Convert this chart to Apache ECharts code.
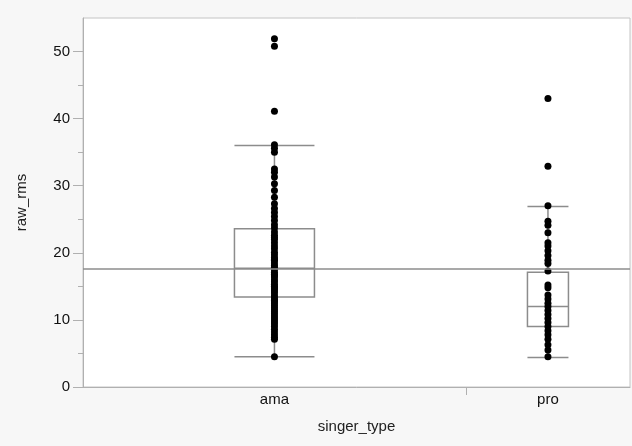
<!DOCTYPE html>
<html>
<head>
<meta charset="utf-8">
<script src="https://cdn.jsdelivr.net/npm/echarts@6/dist/echarts.min.js"></script>
<style>
  html, body { margin: 0; padding: 0; background: #f7f7f7; }
  #chart { width: 632px; height: 446px; }
</style>
</head>
<body>
<div id="chart"></div>
<script>
// categories and raw points
var categories = ['ama', 'pro'];
var amaValues = [51.9, 50.8, 41.1, 36.1, 35.6, 35.0, 32.5, 32.0, 31.3, 30.3,
  29.3, 28.3, 27.3, 26.6, 26.0, 25.4, 24.8, 24.2, 23.7, 23.1,
  22.6, 22.3, 22.0, 21.5, 21.0, 20.6, 20.1, 19.7, 19.3, 19.0,
  18.9, 18.5, 18.1, 17.8, 17.5, 17.1, 16.8, 16.6, 16.4, 16.0,
  15.7, 15.3, 15.0, 14.8, 14.6, 14.3, 14.0, 13.6, 13.3, 13.0,
  12.9, 12.7, 12.4, 12.1, 11.8, 11.5, 11.2, 10.9, 10.6, 10.3,
  10.0, 9.7, 9.4, 9.0, 8.6, 8.2, 7.8, 7.4, 7.1, 4.5];
var proValues = [43.0, 32.9, 27.0, 24.7, 24.1, 23.0, 21.5, 21.0, 20.3, 19.6,
  18.9, 18.4, 17.3, 15.2, 14.8, 13.7, 13.1, 12.5, 12.0, 11.4,
  10.8, 10.2, 9.6, 9.0, 8.4, 7.8, 7.1, 6.3, 5.5, 4.5];

// box stats: min, Q1, median, Q3, max (whisker ends)
var boxStats = [
  [4.5, 13.4, 17.7, 23.6, 36.0],
  [4.4, 9.0, 12.0, 17.1, 26.9]
];
var grandMean = 17.6;
var yTicks = [0, 10, 20, 30, 40, 50];
var yMax = 55;

// category widths follow the number of points, like JMP does
var counts = [amaValues.length, proValues.length];
var total = counts[0] + counts[1];
var centers = [counts[0] / 2, counts[0] + counts[1] / 2];
var yMinorTicks = yTicks.slice(0, -1).map(function (v, i) { return (v + yTicks[i + 1]) / 2; });

var boxWidthPx = [80, 41];
var grey = '#8c8c8c';
var font = 'Liberation Sans, Arial, sans-serif';

var chart = echarts.init(document.getElementById('chart'));

var pointData = [];
amaValues.forEach(function (v) { pointData.push([centers[0], v]); });
proValues.forEach(function (v) { pointData.push([centers[1], v]); });

var boxData = boxStats.map(function (s, i) { return [i].concat(s); });

var option = {
  animation: false,
  backgroundColor: '#f7f7f7',
  textStyle: { fontFamily: font },
  grid: {
    left: 83, right: 2, top: 18, bottom: 59,
    show: true,
    backgroundColor: '#ffffff',
    borderColor: '#c4c4c4',
    borderWidth: 1
  },
  xAxis: {
    type: 'value',
    min: 0,
    max: total,
    name: 'singer_type',
    nameLocation: 'middle',
    nameGap: 32,
    nameTextStyle: { color: '#222', fontSize: 15, fontFamily: font },
    splitLine: { show: false },
    axisLine: { lineStyle: { color: '#b0b0b0', width: 1 } },
    axisTick: { customValues: [counts[0]], length: 8, lineStyle: { color: '#b0b0b0' } },
    axisLabel: {
      customValues: centers,
      color: '#111',
      fontSize: 15,
      margin: 5,
      formatter: function (v) {
        var idx = centers.indexOf(v);
        return idx >= 0 ? categories[idx] : '';
      }
    }
  },
  yAxis: [{
    type: 'value',
    min: 0,
    max: yMax,
    name: 'raw_rms',
    nameLocation: 'middle',
    nameGap: 54,
    nameTextStyle: { color: '#222', fontSize: 15, fontFamily: font },
    splitLine: { show: false },
    axisLine: { show: true, lineStyle: { color: '#b0b0b0', width: 1 } },
    axisTick: { customValues: yTicks, length: 10, lineStyle: { color: '#b0b0b0' } },
    axisLabel: { customValues: yTicks, color: '#111', fontSize: 15, margin: 13 }
  }, {
    type: 'value',
    min: 0,
    max: yMax,
    position: 'left',
    splitLine: { show: false },
    axisLine: { show: false },
    axisTick: { customValues: yMinorTicks, length: 5, lineStyle: { color: '#b0b0b0' } },
    axisLabel: { show: false }
  }],
  series: [{
    type: 'custom',
    name: 'box',
    z: 2,
    encode: { x: 0, y: [1, 2, 3, 4, 5] },
    data: boxData,
    renderItem: function (params, api) {
      var i = api.value(0);
      var x = api.coord([centers[i], 0])[0];
      var hw = boxWidthPx[i] / 2;
      var yLo = api.coord([0, api.value(1)])[1];
      var yQ1 = api.coord([0, api.value(2)])[1];
      var yMed = api.coord([0, api.value(3)])[1];
      var yQ3 = api.coord([0, api.value(4)])[1];
      var yHi = api.coord([0, api.value(5)])[1];
      var st = { stroke: grey, lineWidth: 1.5, fill: null };
      return {
        type: 'group',
        children: [
          { type: 'rect', shape: { x: x - hw, y: yQ3, width: hw * 2, height: yQ1 - yQ3 }, style: st },
          { type: 'line', shape: { x1: x - hw, y1: yMed, x2: x + hw, y2: yMed }, style: st },
          { type: 'line', shape: { x1: x, y1: yQ3, x2: x, y2: yHi }, style: st },
          { type: 'line', shape: { x1: x, y1: yQ1, x2: x, y2: yLo }, style: st },
          { type: 'line', shape: { x1: x - hw, y1: yHi, x2: x + hw, y2: yHi }, style: st },
          { type: 'line', shape: { x1: x - hw, y1: yLo, x2: x + hw, y2: yLo }, style: st }
        ]
      };
    }
  }, {
    type: 'scatter',
    name: 'raw_rms',
    z: 3,
    symbolSize: 7,
    itemStyle: { color: '#000', opacity: 1 },
    data: pointData,
    markLine: {
      silent: true,
      symbol: 'none',
      label: { show: false },
      lineStyle: { color: grey, width: 1.5, type: 'solid' },
      data: [{ yAxis: grandMean }]
    }
  }]
};

chart.setOption(option);
</script>
</body>
</html>
